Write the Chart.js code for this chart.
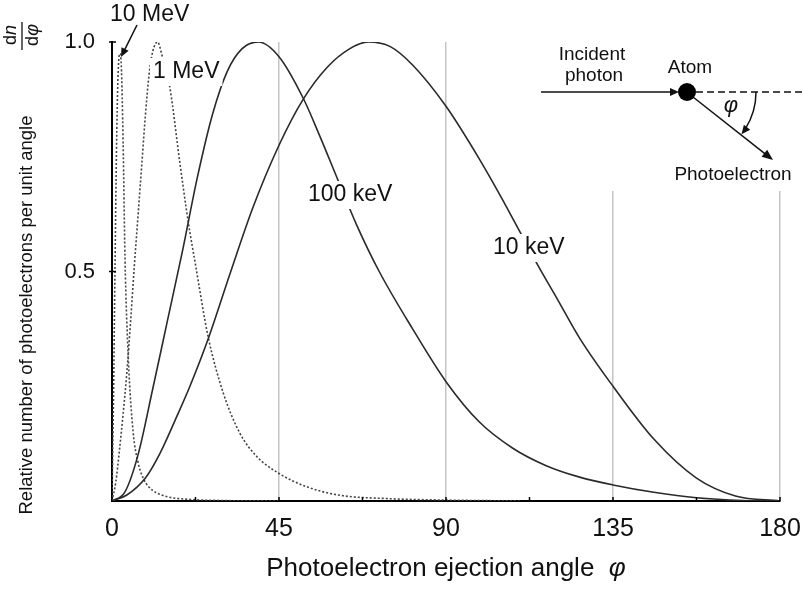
<!DOCTYPE html>
<html><head><meta charset="utf-8">
<script src="https://cdn.jsdelivr.net/npm/chart.js@4.4.1/dist/chart.umd.min.js"></script>
<style>html,body{margin:0;padding:0;background:#fff}#wrap{width:804px;height:589px;position:relative}</style>
</head><body><div id="wrap"><canvas id="c" width="804" height="589"></canvas></div>
<script>
// ---- data ----
const xTickValues = [0, 45, 90, 135, 180];
const yTickValues = [0.5, 1.0];
const yTickLabels = ['0.5', '1.0'];
const seriesNames = ['10 keV', '100 keV', '1 MeV', '10 MeV'];

const phi10keV = [0, 4, 9, 13, 17.5, 21, 26, 32, 38, 45, 51.5, 58, 64, 69, 75, 81, 90, 99, 105, 110, 115, 120, 126, 135, 146, 157.5, 168, 180];
const n10keV   = [0, 0.013, 0.05, 0.105, 0.185, 0.25, 0.355, 0.5, 0.64, 0.775, 0.875, 0.945, 0.985, 1.0, 0.99, 0.95, 0.86, 0.745, 0.66, 0.585, 0.51, 0.44, 0.355, 0.25, 0.135, 0.05, 0.011, 0];

const phi100keV = [0, 3.5, 7, 11, 15, 19, 23, 27, 31, 35, 39.5, 45, 51.5, 56, 61, 66, 72, 81, 90, 99, 108, 117, 126, 135, 146, 157.5, 170, 180];
const n100keV   = [0, 0.02, 0.1, 0.245, 0.395, 0.545, 0.705, 0.84, 0.935, 0.985, 1.0, 0.968, 0.878, 0.795, 0.697, 0.6, 0.5, 0.375, 0.26, 0.172, 0.115, 0.077, 0.052, 0.035, 0.019, 0.007, 0.001, 0];

const phi1MeV = [0, 1, 2, 3, 4, 5, 6, 7, 8, 9, 10, 11, 12.3, 13.5, 15.6, 18.3, 20.6, 22.6, 25.9, 30, 34.5, 39, 45, 52.5, 61, 75, 90, 110];
const n1MeV   = [0, 0.04, 0.11, 0.19, 0.28, 0.39, 0.51, 0.62, 0.73, 0.84, 0.93, 0.98, 1.0, 0.97, 0.9, 0.736, 0.605, 0.51, 0.358, 0.235, 0.147, 0.097, 0.06, 0.031, 0.013, 0.005, 0.002, 0];

const phi10MeV = [0, 0.4, 0.8, 1.2, 1.6, 2.1, 2.5, 3.0, 3.5, 4.4, 5.7, 7, 8.4, 10, 12, 15, 20, 30, 45];
const n10MeV   = [0, 0.22, 0.5, 0.76, 0.92, 0.975, 0.95, 0.78, 0.53, 0.31, 0.15, 0.085, 0.05, 0.03, 0.018, 0.009, 0.004, 0.001, 0];

function pts(xs, ys){ return xs.map((x,i)=>({x:x, y:ys[i]})); }

const FONT = '"Liberation Sans", Arial, sans-serif';
const LINE = '#2a2a2a';

const solid = {borderColor: LINE, borderWidth: 1.6, pointRadius: 0, cubicInterpolationMode: 'monotone', fill: false};
const dotted = {borderColor: '#444', borderWidth: 1.6, borderDash: [2, 2], pointRadius: 0, cubicInterpolationMode: 'monotone', fill: false};

const decor = {
  id: 'decor',
  afterDraw(chart){
    const ctx = chart.ctx;
    const xs = chart.scales.x, ys = chart.scales.y;
    const a = chart.chartArea;
    ctx.save();
    // inward tick marks
    ctx.strokeStyle = '#000'; ctx.lineWidth = 1.5;
    for (let v = 22.5; v <= 180; v += 22.5){
      const px = xs.getPixelForValue(v);
      ctx.beginPath(); ctx.moveTo(px, a.bottom); ctx.lineTo(px, a.bottom - 4); ctx.stroke();
    }
    yTickValues.forEach(v => {
      const py = ys.getPixelForValue(v);
      ctx.beginPath(); ctx.moveTo(a.left - 3, py); ctx.lineTo(a.left + 4, py); ctx.stroke();
    });

    function arrow(x1, y1, x2, y2, len, half){
      ctx.strokeStyle = '#111'; ctx.fillStyle = '#111'; ctx.lineWidth = 1.5;
      const ang = Math.atan2(y2 - y1, x2 - x1);
      ctx.beginPath(); ctx.moveTo(x1, y1);
      ctx.lineTo(x2 - Math.cos(ang) * len * 0.8, y2 - Math.sin(ang) * len * 0.8); ctx.stroke();
      ctx.beginPath(); ctx.moveTo(x2, y2);
      ctx.lineTo(x2 - Math.cos(ang) * len - Math.sin(ang) * half, y2 - Math.sin(ang) * len + Math.cos(ang) * half);
      ctx.lineTo(x2 - Math.cos(ang) * len + Math.sin(ang) * half, y2 - Math.sin(ang) * len - Math.cos(ang) * half);
      ctx.closePath(); ctx.fill();
    }

    // curve labels with white knock-out
    function label(txt, x, y){
      ctx.font = '23px ' + FONT;
      const w = ctx.measureText(txt).width;
      ctx.fillStyle = '#fff';
      ctx.fillRect(x - 3, y - 14, w + 6, 28);
      ctx.fillStyle = '#111';
      ctx.textAlign = 'left'; ctx.textBaseline = 'middle';
      ctx.fillText(txt, x, y);
    }
    label(seriesNames[2], 153, 72);
    label(seriesNames[1], 308, 195);
    label(seriesNames[0], 493, 248);
    // 10 MeV label + arrow
    ctx.font = '23px ' + FONT; ctx.fillStyle = '#111'; ctx.textBaseline = 'middle'; ctx.textAlign = 'left';
    ctx.fillText(seriesNames[3], 110, 15);
    arrow(137, 25, 121, 57, 9, 4);

    // inset
    ctx.fillStyle = '#fff'; ctx.fillRect(536, 0, 268, 191);
    const cx = 687, cy = 92;
    arrow(541, cy, 679, cy, 9, 4);
    ctx.setLineDash([7, 4]); ctx.lineWidth = 1.5; ctx.strokeStyle = '#111';
    ctx.beginPath(); ctx.moveTo(696, cy); ctx.lineTo(804, cy); ctx.stroke();
    ctx.setLineDash([]);
    arrow(693, 97, 773, 160, 11, 4.5);
    ctx.beginPath(); ctx.arc(cx, cy, 9, 0, Math.PI * 2); ctx.fillStyle = '#000'; ctx.fill();
    // angle arc
    const r = 69;
    ctx.beginPath(); ctx.arc(cx, cy, r, 0, 0.56); ctx.lineWidth = 1.5; ctx.strokeStyle = '#111'; ctx.stroke();
    {
      const t = 0.66, tx = cx + r * Math.cos(t), ty = cy + r * Math.sin(t);
      const dx = -Math.sin(t), dy = Math.cos(t);
      ctx.beginPath(); ctx.moveTo(tx, ty);
      ctx.lineTo(tx - dx * 9 - dy * 4, ty - dy * 9 + dx * 4);
      ctx.lineTo(tx - dx * 9 + dy * 4, ty - dy * 9 - dx * 4);
      ctx.closePath(); ctx.fillStyle = '#111'; ctx.fill();
    }
    ctx.fillStyle = '#111'; ctx.textAlign = 'center'; ctx.textBaseline = 'middle';
    ctx.font = '19px ' + FONT;
    ctx.fillText('Incident', 592, 55);
    ctx.fillText('photon', 594, 76);
    ctx.fillText('Atom', 690, 68);
    ctx.fillText('Photoelectron', 733, 175);
    ctx.font = 'italic 22px ' + FONT;
    ctx.fillText('φ', 731, 106);

    // axis titles
    ctx.font = '26px ' + FONT; ctx.textAlign = 'left'; ctx.textBaseline = 'middle';
    const t1 = 'Photoelectron ejection angle  ';
    const w1 = ctx.measureText(t1).width;
    ctx.font = 'italic 26px ' + FONT;
    const w2 = ctx.measureText('φ').width;
    const sx = (a.left + a.right) / 2 - (w1 + w2) / 2;
    ctx.font = '26px ' + FONT; ctx.fillText(t1, sx, 569);
    ctx.font = 'italic 26px ' + FONT; ctx.fillText('φ', sx + w1, 569);

    ctx.save();
    ctx.translate(27, 315); ctx.rotate(-Math.PI / 2);
    ctx.font = '18.5px ' + FONT; ctx.textAlign = 'center'; ctx.textBaseline = 'middle';
    ctx.fillText('Relative number of photoelectrons per unit angle', 0, 0);
    ctx.restore();

    ctx.save();
    ctx.translate(22, 36); ctx.rotate(-Math.PI / 2);
    ctx.lineWidth = 1.3; ctx.beginPath(); ctx.moveTo(-14, 0); ctx.lineTo(14, 0); ctx.stroke();
    ctx.textAlign = 'center'; ctx.textBaseline = 'middle';
    ctx.font = '18px ' + FONT; ctx.fillText('d', -4, -11);
    ctx.font = 'italic 18px ' + FONT; ctx.fillText('n', 6, -11);
    ctx.font = '18px ' + FONT; ctx.fillText('d', -5, 11);
    ctx.font = 'italic 18px ' + FONT; ctx.fillText('φ', 6, 11);
    ctx.restore();

    ctx.restore();
  }
};

new Chart(document.getElementById('c'), {
  type: 'line',
  data: {
    datasets: [
      Object.assign({label: seriesNames[0], data: pts(phi10keV, n10keV)}, solid),
      Object.assign({label: seriesNames[1], data: pts(phi100keV, n100keV)}, solid),
      Object.assign({label: seriesNames[2], data: pts(phi1MeV, n1MeV)}, dotted),
      Object.assign({label: seriesNames[3], data: pts(phi10MeV, n10MeV)}, dotted)
    ]
  },
  options: {
    responsive: false, animation: false, devicePixelRatio: 1,
    layout: {padding: {left: 0, right: 0, top: 42, bottom: 0}},
    plugins: {legend: {display: false}, tooltip: {enabled: false}},
    scales: {
      x: {
        type: 'linear', min: 0, max: 180,
        afterFit(s){ s.height = 88; s.paddingRight = 24; s.paddingLeft = 0; },
        afterBuildTicks(s){ s.ticks = [0,22.5,45,67.5,90,112.5,135,157.5,180].map(v => ({value: v})); },
        ticks: {
          autoSkip: false, maxRotation: 0, padding: 13, color: '#111',
          font: {family: FONT, size: 25},
          callback: (v) => xTickValues.includes(v) ? String(v) : ''
        },
        grid: {
          drawTicks: false, lineWidth: 1.5,
          color: (c) => (c.tick && [45, 90, 135, 180].includes(c.tick.value)) ? '#c4c4c4' : 'rgba(0,0,0,0)'
        },
        border: {display: true, color: '#000', width: 2}
      },
      y: {
        type: 'linear', min: 0, max: 1,
        afterFit(s){ s.width = 112; },
        afterBuildTicks(s){ s.ticks = yTickValues.map(v => ({value: v})); },
        ticks: {
          padding: 17, color: '#111',
          font: {family: FONT, size: 22},
          callback: (v) => yTickLabels[yTickValues.indexOf(v)] || ''
        },
        grid: {display: false, drawTicks: false},
        border: {display: true, color: '#000', width: 2}
      }
    }
  },
  plugins: [decor]
});
</script>
</body></html>
